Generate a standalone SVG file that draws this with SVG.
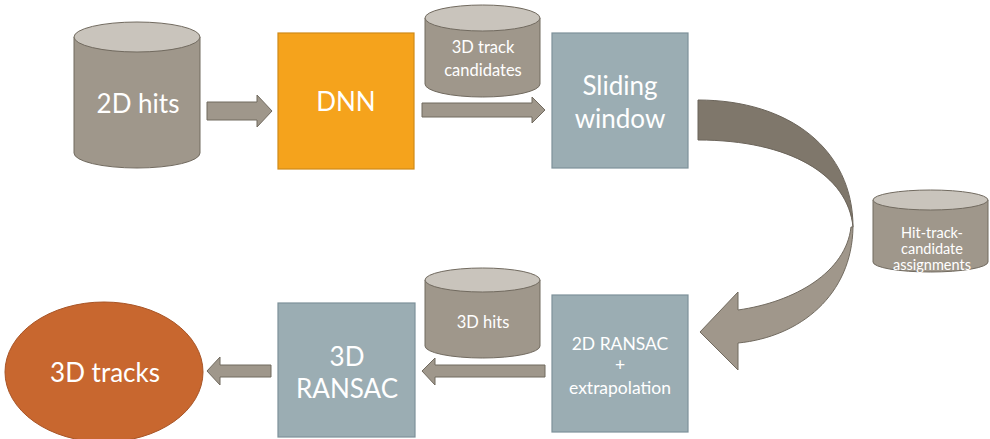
<svg xmlns="http://www.w3.org/2000/svg" width="990" height="439" viewBox="0 0 990 439">
<style>
.cyl{fill:#9f978b;stroke:#716a5f;stroke-width:1}
.cyltop{fill:#c9c4bc;stroke:#716a5f;stroke-width:1}
.box{fill:#9badb3;stroke:#7d9199;stroke-width:1.2}
.arr{fill:#9f978b;stroke:#716a5f;stroke-width:1}
.t{font-family:"Lato","Open Sans","Liberation Sans",sans-serif;fill:#ffffff;text-anchor:middle}
.big{font-size:26px}
.mid{font-size:16.5px}
.rs{font-size:17.5px}
.sm{font-size:14.5px}
</style>
<rect width="990" height="439" fill="#ffffff"/>
<g id="connectors">
<path class="arr" d="M207,102 H257 V95 L272,111 L257,127 V120 H207 Z"/>
<path class="arr" d="M422,103 H532 V97 L545,110 L532,123 V117 H422 Z"/>
<path class="arr" d="M545,365 H435 V358 L422,371 L435,385 V377 H545 Z"/>
<path class="arr" d="M271,365 H220 V357 L207,371 L220,385 V377 H271 Z"/>
<path d="M698,100 C790,100 853,150 853,227 C848,175 790,140 698,140 Z" fill="#7f776b" stroke="#6b645a" stroke-width="1"/>
<path d="M853,227 C852,295 800,337 738,343 L738,370 L700,332 L738,292 L738,310 C795,302 846,272 851,227 Z" fill="#a0978b" stroke="#716a5f" stroke-width="1"/>
</g>
<g id="n-2dhits">
<path class="cyl" d="M74,37 V153 A63,15 0 0 0 200,153 V37 Z"/>
<ellipse class="cyltop" cx="137" cy="37" rx="63" ry="15"/>
<text class="t big" x="138" y="113">2D hits</text>
</g>
<g id="n-dnn">
<rect x="278" y="33" width="136" height="136" fill="#f5a31c" stroke="#d08a18" stroke-width="1.2"/>
<text class="t big" x="346" y="111">DNN</text>
</g>
<g id="n-candidates">
<path class="cyl" d="M425,18 V84 A57.5,13 0 0 0 540,84 V18 Z"/>
<ellipse class="cyltop" cx="482.5" cy="18" rx="57.5" ry="13"/>
<text class="t mid" x="483" y="53">3D track</text>
<text class="t mid" x="483" y="76">candidates</text>
</g>
<g id="n-sliding">
<rect class="box" x="552" y="33" width="136" height="135"/>
<text class="t big" x="620" y="95">Sliding</text>
<text class="t big" x="620" y="128">window</text>
</g>
<g id="n-assign">
<path class="cyl" d="M873,200 V262 A57.5,10 0 0 0 988,262 V200 Z"/>
<ellipse class="cyltop" cx="930.5" cy="200" rx="57.5" ry="10"/>
<text class="t sm" x="932" y="238">Hit-track-</text>
<text class="t sm" x="932" y="254">candidate</text>
<text class="t sm" x="932" y="270">assignments</text>
</g>
<g id="n-2dransac">
<rect class="box" x="552" y="295" width="136" height="137"/>
<text class="t rs" x="620" y="350">2D RANSAC</text>
<text class="t rs" x="620" y="371">+</text>
<text class="t rs" x="620" y="394">extrapolation</text>
</g>
<g id="n-3dhits">
<path class="cyl" d="M425,280 V346 A57.5,12 0 0 0 540,346 V280 Z"/>
<ellipse class="cyltop" cx="482.5" cy="280" rx="57.5" ry="12"/>
<text class="t mid" x="483" y="328">3D hits</text>
</g>
<g id="n-3dransac">
<rect class="box" x="278" y="303" width="137" height="134"/>
<text class="t big" x="347" y="366">3D</text>
<text class="t big" x="347" y="398">RANSAC</text>
</g>
<g id="n-3dtracks">
<ellipse cx="104" cy="372" rx="99" ry="70" fill="#c8672f" stroke="#a85527" stroke-width="1"/>
<text class="t big" x="105" y="382">3D tracks</text>
</g>
</svg>
